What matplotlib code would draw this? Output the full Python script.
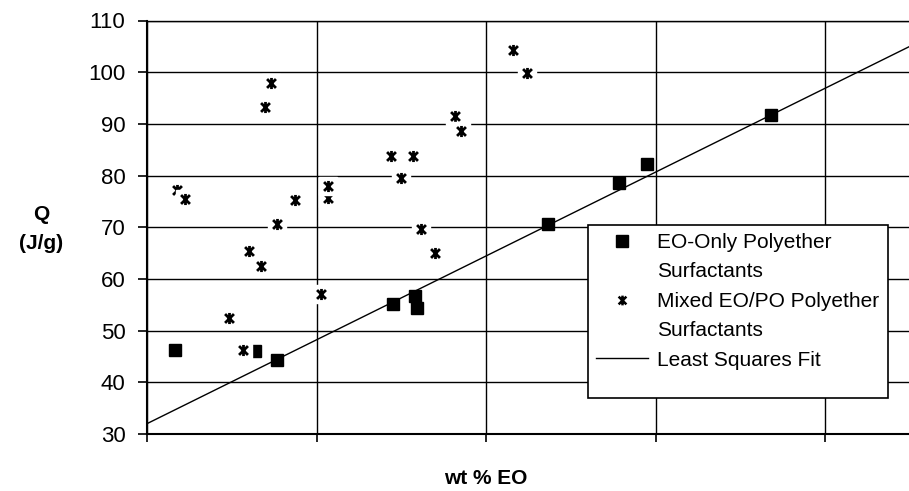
import matplotlib.pyplot as plt
import matplotlib.patches as patches
from matplotlib.lines import Line2D
from matplotlib.path import Path
import numpy as np

plt.rcParams['font.family'] = ['Liberation Sans', 'DejaVu Sans']

# EO-only polyether surfactants
eo_x = [3.3, 12.8, 15.3, 29.0, 31.6, 31.9, 47.3, 55.7, 59.0, 73.6]
eo_q = [46.2, 46.1, 44.3, 55.1, 56.7, 54.3, 70.6, 78.6, 82.2, 91.8]

# mixed EO/PO polyether surfactants
mix_x = [3.5, 4.5, 9.7, 11.3, 12.0, 13.5, 13.9, 14.6, 15.3, 17.5, 20.5,
         21.3, 21.4, 28.8, 30.0, 31.4, 32.3, 34.0, 36.3, 37.0, 43.2, 44.8]
mix_q = [77.2, 75.5, 52.4, 46.3, 65.5, 62.5, 93.3, 98.0, 70.6, 75.2, 57.0,
         75.7, 77.9, 83.7, 79.5, 83.7, 69.7, 65.1, 91.5, 88.7, 104.2, 99.9]

# least squares fit
fit_intercept = 32.0
fit_slope = 0.811

y_ticks = [30, 40, 50, 60, 70, 80, 90, 100, 110]
x_ticks = [0, 20, 40, 60, 80, 100]

# asterisk marker: x with a vertical bar
star = Path([(-1, -1), (1, 1), (-1, 1), (1, -1), (0, -1.25), (0, 1.25)],
            [Path.MOVETO, Path.LINETO, Path.MOVETO, Path.LINETO, Path.MOVETO, Path.LINETO])

W, H = 909, 491
fig = plt.figure(figsize=(W / 100, H / 100), dpi=100)
ax = fig.add_axes([147 / W, 57 / H, 847.5 / W, 413.5 / H])

ax.set_xlim(0, 100)
ax.set_ylim(30, 110)
ax.set_xticks(x_ticks)
ax.set_xticklabels([])
ax.set_yticks(y_ticks)
ax.tick_params(axis='y', labelsize=16, length=6.5, width=1.2, pad=9, direction='out')
ax.tick_params(axis='x', length=5.5, width=1.2, direction='out')
ax.grid(True, color='black', linewidth=1.0)
ax.set_axisbelow(True)
ax.spines['left'].set_linewidth(1.5)
ax.spines['bottom'].set_linewidth(1.5)
ax.spines['top'].set_linewidth(1.0)
ax.spines['right'].set_visible(False)

fx = np.array([0, 100])
ax.plot(fx, fit_intercept + fit_slope * fx, color='black', lw=1.0, zorder=2)

ax.plot(eo_x, eo_q, ls='none', marker='s', color='black', markersize=8.5, zorder=3)

# each asterisk sits on a white box, drawn point by point
for xv, qv in zip(mix_x, mix_q):
    ax.plot([xv], [qv], ls='none', marker='s', color='white', markersize=13, zorder=3)
    ax.plot([xv], [qv], ls='none', marker=star, mfc='none', mec='black',
            markersize=8, mew=2.0, zorder=3)

fig.text(41 / W, 1 - 229 / H, 'Q\n(J/g)', ha='center', va='center',
         fontsize=15, fontweight='bold', linespacing=1.7)
fig.text(486 / W, 1 - 478 / H, 'wt % EO', ha='center', va='center',
         fontsize=15, fontweight='bold')

# legend frame
frame = patches.Rectangle((588 / W, 1 - 398 / H), 300 / W, 173 / H,
                          transform=fig.transFigure, facecolor='white',
                          edgecolor='black', lw=1.2, zorder=4, clip_on=False)
ax.add_patch(frame)

h_sq = Line2D([], [], ls='none', marker='s', color='black', markersize=8)
h_x = Line2D([], [], ls='none', marker=star, mfc='none', mec='black', markersize=7, mew=1.8)
h_fit = Line2D([], [], color='black', lw=1.0)
blank = Line2D([], [], ls='none')
leg = ax.legend([h_sq, blank, h_x, blank, h_fit],
                ['EO-Only Polyether', 'Surfactants', 'Mixed EO/PO Polyether',
                 'Surfactants', 'Least Squares Fit'],
                loc='upper left', bbox_to_anchor=(596 / W, 1 - 233 / H),
                bbox_transform=fig.transFigure, frameon=False, fontsize=15,
                borderpad=0, borderaxespad=0, handlelength=2.5,
                handletextpad=0.45, labelspacing=0.5)
leg.set_zorder(5)

fig.savefig('out.png', dpi=100)
